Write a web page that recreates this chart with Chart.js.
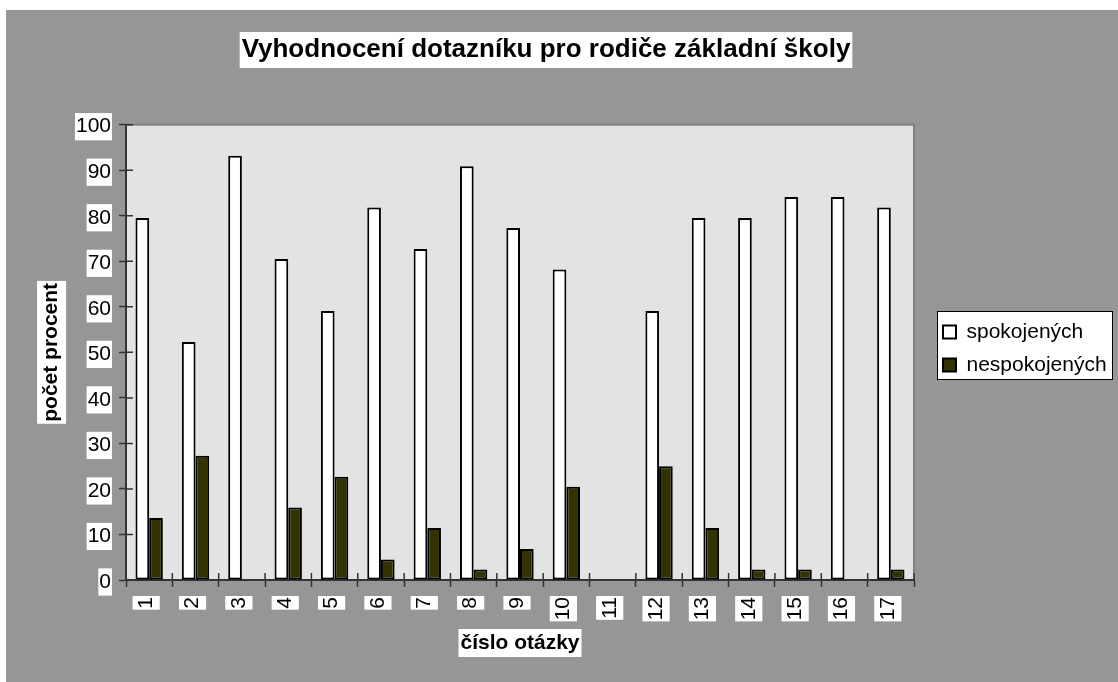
<!DOCTYPE html>
<html><head><meta charset="utf-8">
<script src="https://cdn.jsdelivr.net/npm/chart.js@4/dist/chart.umd.min.js"></script>
<style>
html,body{margin:0;padding:0;background:#fff;width:1118px;height:682px;overflow:hidden}
#wrap{position:absolute;left:6px;top:10px;width:1112px;height:672px;background:#969696}
canvas{display:block}
</style></head><body>
<div id="wrap"><canvas id="c" width="1112" height="672"></canvas></div>
<script>
const categories = ['1','2','3','4','5','6','7','8','9','10','11','12','13','14','15','16','17'];
const seriesNames = ['spokojených','nespokojených'];
const satisfied    = [79.5,52.3,93.2,70.5,59.1,81.8,72.7,90.9,77.3,68.2,0,59.1,79.5,79.5,84.1,84.1,81.8];
const dissatisfied = [13.6,27.3,0,15.9,22.7,4.5,11.4,2.3,6.8,20.5,0,25.0,11.4,2.3,2.3,0,2.3];
const yTicks = [0,10,20,30,40,50,60,70,80,90,100];
const chartTitle = 'Vyhodnocení dotazníku pro rodiče základní školy';
const xTitle = 'číslo otázky';
const yTitle = 'počet procent';

const FONT = '"Liberation Sans", Arial, Helvetica, sans-serif';
Chart.defaults.font.family = FONT;
Chart.defaults.color = '#000';

const decor = {
  id: 'decor',
  beforeLayout(chart) {
    const lg = chart.legend;
    if (lg && !lg.__p) {
      const f = lg.fit.bind(lg);
      lg.fit = function () { f(); this.width = 204; };
      lg.__p = true;
    }
  },
  afterLayout(chart) {
    const lg = chart.legend;
    if (lg) { lg.left = 925; lg.right = 1112; lg.width = 187; lg.top = 299.5; lg.bottom = 399.5; lg.height = 100; }
    const tb = chart.titleBlock;
    if (tb) { tb.right = tb.left + 1080; tb.width = 1080; }
  },
  beforeDraw(chart) {
    const ctx = chart.ctx, ca = chart.chartArea;
    ctx.save();
    ctx.fillStyle = '#E3E3E3';
    ctx.fillRect(ca.left, ca.top, ca.right - ca.left, ca.bottom - ca.top);
    ctx.strokeStyle = '#808080'; ctx.lineWidth = 2;
    ctx.strokeRect(ca.left, ca.top, ca.right - ca.left, ca.bottom - ca.top);
    ctx.fillStyle = '#fff';
    const tb = chart.titleBlock;
    ctx.font = 'bold 26px ' + FONT;
    let w = ctx.measureText(chartTitle).width;
    let cx = (tb.left + tb.right) / 2, cy = tb.top + 24.4 + 15.6;
    ctx.fillRect(cx - w / 2 - 2, cy - 18, w + 4, 36);
    ctx.font = 'bold 21px ' + FONT;
    const ys = chart.scales.y, xs = chart.scales.x;
    w = ctx.measureText(yTitle).width;
    cx = ys.left + 33 + 12.6; cy = (ys.top + ys.bottom) / 2;
    ctx.fillRect(cx - 14.5, cy - w / 2 - 2, 29, w + 4);
    w = ctx.measureText(xTitle).width;
    cx = (xs.left + xs.right) / 2; cy = xs.bottom - 26.4 - 12.6;
    ctx.fillRect(cx - w / 2 - 2, cy - 14, w + 4, 28);
    const lg = chart.legend;
    ctx.fillRect(lg.left + 6, lg.top + 1.5, 176, 69);
    ctx.strokeStyle = '#000'; ctx.lineWidth = 1;
    ctx.strokeRect(lg.left + 6.5, lg.top + 2, 175, 68);
    ctx.restore();
  },
  afterDraw(chart) {
    const ctx = chart.ctx, ca = chart.chartArea, ys = chart.scales.y;
    ctx.save();
    ctx.strokeStyle = '#333'; ctx.lineWidth = 1.5;
    ctx.beginPath();
    ys.ticks.forEach((t, i) => { const y = ys.getPixelForTick(i); ctx.moveTo(ca.left, y); ctx.lineTo(ca.left + 7, y); });
    const n = categories.length;
    for (let i = 0; i <= n; i++) { const x = ca.left + i * (ca.right - ca.left) / n; ctx.moveTo(x, ca.bottom - 7); ctx.lineTo(x, ca.bottom); }
    ctx.stroke();
    ctx.restore();
  }
};

new Chart(document.getElementById('c'), {
  type: 'bar',
  data: {
    labels: categories,
    datasets: [
      { label: seriesNames[0], data: satisfied, backgroundColor: '#FFFFFF', borderColor: '#000', borderWidth: 2, borderSkipped: false, categoryPercentage: 0.59, barPercentage: 1 },
      { label: seriesNames[1], data: dissatisfied, backgroundColor: '#333300', borderColor: '#000', borderWidth: 2, borderSkipped: false, categoryPercentage: 0.59, barPercentage: 1 }
    ]
  },
  options: {
    responsive: false, animation: false, devicePixelRatio: 1,
    layout: { padding: 0 },
    plugins: {
      tooltip: { enabled: false },
      title: { display: true, text: chartTitle, color: '#000', font: { size: 26, weight: 'bold' }, padding: { top: 24.4, bottom: 59.1 } },
      legend: { position: 'right', align: 'start', labels: { color: '#000', font: { size: 21 }, boxWidth: 13, boxHeight: 13, padding: 12 } }
    },
    scales: {
      x: {
        afterFit(s) { s.height = 102; },
        ticks: { font: { size: 21 }, color: '#000', minRotation: 90, maxRotation: 90, autoSkip: false, padding: 10, labelOffset: -15.6, showLabelBackdrop: true, backdropColor: '#fff', backdropPadding: 1 },
        grid: { offset: true, drawOnChartArea: false, tickLength: 7, tickColor: '#333', tickWidth: 1.5 },
        border: { display: true, color: '#333', width: 2 },
        title: { display: true, text: xTitle, color: '#000', font: { size: 21, weight: 'bold' }, padding: { top: 0, bottom: 26.4 } }
      },
      y: {
        min: 0, max: 100,
        afterFit(s) { s.width = 120; },
        afterBuildTicks(s) { s.ticks = yTicks.map(v => ({ value: v })); },
        ticks: { font: { size: 21 }, color: '#000', padding: 8, labelOffset: 2, showLabelBackdrop: true, backdropColor: '#fff', backdropPadding: 1 },
        grid: { drawOnChartArea: false, tickLength: 7, tickColor: '#333', tickWidth: 1.5 },
        border: { display: true, color: '#333', width: 2 },
        title: { display: true, text: yTitle, color: '#000', font: { size: 21, weight: 'bold' }, padding: { top: 33, bottom: 0 } }
      }
    }
  },
  plugins: [decor]
});
</script>
</body></html>
